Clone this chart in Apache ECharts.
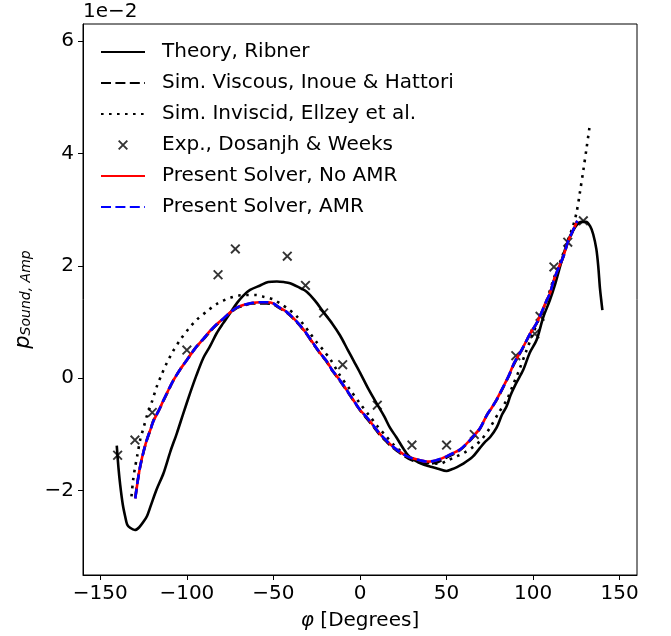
<!DOCTYPE html>
<html>
<head>
<meta charset="utf-8">
<script src="https://cdn.jsdelivr.net/npm/echarts@6/dist/echarts.min.js"></script>
<style>
html,body{margin:0;padding:0;background:#fff;}
#chart{width:671px;height:636px;}
</style>
</head>
<body>
<div id="chart"></div>
<script>
// ---- data (values in units of 1e-2) ----
const ribnerX = [-140.5,-139.5,-138.5,-137,-135.7,-134.5,-132.8,-130,-127.5,-125,-123,-121,-117.5,-113.5,-109.5,-105.8,-102,-98.2,-94.5,-90.5,-86.6,-82.8,-79,-75,-71,-67.4,-63.5,-57.7,-53,-48,-44,-40.4,-35,-30.8,-26,-21.2,-16,-11.5,-7,-3.5,0,5,10,14,17.3,21,25,28,32.7,37,40.4,45,50,53,56,59.7,65,69.3,72,75.1,78.9,82,84.7,87,90,94.3,98,102,105.8,109.7,112.5,115.5,118,121.2,125.1,128,130.5,133,134.7,136.5,137.6,138.6,139.3,140];
const ribnerY = [-1.2,-1.6,-1.9,-2.25,-2.45,-2.6,-2.66,-2.7,-2.65,-2.55,-2.45,-2.28,-1.98,-1.69,-1.3,-0.98,-0.62,-0.27,0.05,0.36,0.57,0.8,0.98,1.16,1.34,1.47,1.57,1.65,1.71,1.72,1.71,1.69,1.61,1.54,1.38,1.18,0.97,0.76,0.5,0.3,0.1,-0.2,-0.47,-0.68,-0.88,-1.05,-1.25,-1.38,-1.48,-1.54,-1.57,-1.61,-1.65,-1.62,-1.58,-1.52,-1.4,-1.24,-1.14,-1.05,-0.88,-0.65,-0.5,-0.3,-0.1,0.15,0.45,0.68,1.08,1.39,1.65,1.98,2.25,2.52,2.72,2.78,2.78,2.7,2.56,2.3,2.0,1.6,1.4,1.21];

const viscousX = [-129.8,-128.5,-127,-125,-123.2,-121,-119.3,-116,-113.5,-110.5,-107.8,-104,-100.1,-95,-90.5,-86.6,-82.8,-79,-75.1,-71,-67.4,-62,-57.7,-54,-50,-46.2,-42.4,-38.5,-34.6,-31,-27,-23.1,-19.2,-16.4,-12,-7.7,-4,0,4,7.7,11.5,15,18,21.2,25,28,30.8,34.6,38,40.4,44,47,50,54,57.7,61,65,69.3,73.2,76,78.9,82.8,86,89,92.4,95,98,102,105,107,109.7,112,114.5,117.4,120,123.2,125.5];
const viscousY = [-2.12,-1.84,-1.58,-1.31,-1.11,-0.91,-0.75,-0.56,-0.4,-0.21,-0.04,0.15,0.32,0.54,0.69,0.83,0.95,1.05,1.16,1.25,1.29,1.33,1.33,1.33,1.31,1.24,1.17,1.06,0.93,0.79,0.61,0.44,0.29,0.15,-0.03,-0.22,-0.39,-0.57,-0.72,-0.86,-1.01,-1.12,-1.21,-1.29,-1.37,-1.43,-1.47,-1.5,-1.52,-1.52,-1.5,-1.46,-1.41,-1.35,-1.28,-1.19,-1.06,-0.9,-0.66,-0.53,-0.39,-0.16,0.04,0.25,0.44,0.59,0.77,0.97,1.17,1.32,1.5,1.74,1.94,2.15,2.41,2.63,2.79];

const inviscidX = [-132,-131,-130,-128.5,-127,-125,-123.2,-120,-117.4,-114.5,-111.6,-108,-103.9,-99,-94.3,-88,-82.8,-79,-75.1,-70,-65.4,-60,-55.8,-50,-46.2,-41,-36.5,-32.5,-28.9,-25,-21.2,-17,-12,-5.8,0,5,10,15,20,25,30,35,40,46.2,50,55.8,60,65.4,70,75.1,80,84.7,88,92,96,100,104,108,112,116,120,123,125.1,127,129,130.9,132.5];
const inviscidY = [-2.1,-1.8,-1.6,-1.35,-1.1,-0.88,-0.68,-0.4,-0.15,0.07,0.27,0.48,0.68,0.88,1.04,1.2,1.32,1.38,1.43,1.47,1.48,1.48,1.45,1.4,1.33,1.22,1.1,0.95,0.8,0.64,0.5,0.33,0.07,-0.2,-0.45,-0.65,-0.85,-1.03,-1.2,-1.33,-1.42,-1.47,-1.51,-1.52,-1.47,-1.39,-1.33,-1.22,-1.1,-0.88,-0.62,-0.39,-0.15,0.15,0.48,0.8,1.1,1.4,1.78,2.1,2.45,2.7,2.95,3.3,3.7,4.1,4.45];

const expX = [-140,-130,-120,-100,-82,-72,-42,-31.5,-21,-10,10,30,50,66,90,101,104,112,120,129];
const expY = [-1.37,-1.1,-0.61,0.5,1.84,2.3,2.17,1.65,1.16,0.24,-0.48,-1.19,-1.19,-1.0,0.4,0.79,1.1,1.98,2.42,2.8];

const noAmrX = [-129.8,-128.5,-127,-125,-123.2,-121,-119.3,-116,-113.5,-110.5,-107.8,-104,-100.1,-95,-90.5,-86.6,-82.8,-79,-75.1,-71,-67.4,-62,-57.7,-54,-50,-46.2,-42.4,-38.5,-34.6,-31,-27,-23.1,-19.2,-16.4,-12,-7.7,-4,0,4,7.7,11.5,15,18,21.2,25,28,30.8,34.6,38,40.4,44,47,50,54,57.7,61,65,69.3,73.2,76,78.9,82.8,86,89,92.4,95,98,102,105,107,109.7,112,114.5,117.4,120,123.2,125.5];
const noAmrY = [-2.14,-1.85,-1.57,-1.3,-1.1,-0.91,-0.76,-0.56,-0.39,-0.2,-0.04,0.15,0.32,0.54,0.7,0.84,0.96,1.06,1.17,1.26,1.3,1.34,1.35,1.35,1.33,1.25,1.18,1.07,0.94,0.8,0.62,0.45,0.3,0.16,-0.02,-0.21,-0.38,-0.56,-0.7,-0.84,-0.99,-1.1,-1.19,-1.27,-1.35,-1.4,-1.43,-1.46,-1.48,-1.48,-1.46,-1.43,-1.39,-1.33,-1.27,-1.18,-1.05,-0.89,-0.66,-0.53,-0.38,-0.15,0.05,0.27,0.45,0.6,0.78,0.98,1.18,1.33,1.51,1.75,1.95,2.16,2.42,2.64,2.8];

const amrX = noAmrX.slice();
const amrY = noAmrY.slice();

const xTicks = [-150,-100,-50,0,50,100,150];
const yTicks = [-2,0,2,4,6];

const seriesNames = ['Theory, Ribner','Sim. Viscous, Inoue & Hattori','Sim. Inviscid, Ellzey et al.','Exp., Dosanjh & Weeks','Present Solver, No AMR','Present Solver, AMR'];

// ---- chart ----
const pairs = (xs, ys) => xs.map((x, i) => [x, ys[i]]);
const FONT = 'DejaVu Sans';
const minus = v => String(v).replace('-', '\u2212');
const LW = 2.6;
const crossPath = 'path://M0,1.35L1.35,0L10,8.65L8.65,10Z M8.65,0L10,1.35L1.35,10L0,8.65Z';
const hiddenSym = {opacity: 0};

const chart = echarts.init(document.getElementById('chart'), null, {renderer: 'canvas'});
chart.setOption({
  animation: false,
  backgroundColor: '#fff',
  textStyle: {fontFamily: FONT},
  grid: {left: 83, top: 24, right: 34, bottom: 61, show: true, borderColor: '#000', borderWidth: 1, containLabel: false},
  xAxis: {
    type: 'value', min: -160, max: 160,
    name: '{i|\u03c6} [Degrees]', nameLocation: 'middle', nameGap: 36,
    nameTextStyle: {fontSize: 20, color: '#000', fontFamily: FONT,
      rich: {i: {fontSize: 20, fontStyle: 'italic', fontFamily: FONT, color: '#000'}}},
    axisLine: {show: true, onZero: false, lineStyle: {color: '#000', width: 1}},
    axisTick: {show: true, length: 5, lineStyle: {color: '#000', width: 1}, customValues: xTicks},
    axisLabel: {show: true, fontSize: 20, color: '#000', fontFamily: FONT, margin: 9, customValues: xTicks, formatter: minus},
    splitLine: {show: false}
  },
  yAxis: {
    type: 'value', min: -3.5, max: 6.3,
    name: '{p|p}{s|Sound, Amp}', nameLocation: 'middle', nameGap: 46, nameRotate: 90,
    nameTextStyle: {color: '#000', fontFamily: FONT,
      rich: {
        p: {fontSize: 21, fontStyle: 'italic', fontFamily: FONT, color: '#000', lineHeight: 24, verticalAlign: 'bottom'},
        s: {fontSize: 14, fontStyle: 'italic', fontFamily: FONT, color: '#000', lineHeight: 14, verticalAlign: 'bottom'}
      }},
    axisLine: {show: true, onZero: false, lineStyle: {color: '#000', width: 1}},
    axisTick: {show: true, length: 5, lineStyle: {color: '#000', width: 1}, customValues: yTicks},
    axisLabel: {show: true, fontSize: 20, color: '#000', fontFamily: FONT, margin: 9, customValues: yTicks, formatter: minus},
    splitLine: {show: false}
  },
  legend: {
    orient: 'vertical', left: 100, top: 42, padding: 0,
    itemWidth: 44, itemHeight: 10, itemGap: 11,
    selectedMode: false,
    textStyle: {fontSize: 20, color: '#000', fontFamily: FONT, lineHeight: 20, padding: [0, 0, 0, 12]},
    data: [
      {name: seriesNames[0], itemStyle: hiddenSym},
      {name: seriesNames[1], itemStyle: hiddenSym},
      {name: seriesNames[2], itemStyle: hiddenSym},
      {name: seriesNames[3]},
      {name: seriesNames[4], itemStyle: hiddenSym},
      {name: seriesNames[5], itemStyle: hiddenSym}
    ]
  },
  graphic: [{
    type: 'text', left: 83, top: 2,
    style: {text: '1e\u22122', font: '20px "DejaVu Sans"', fill: '#000'}
  }],
  series: [
    {name: seriesNames[0], type: 'line', data: pairs(ribnerX, ribnerY), symbol: 'none', smooth: 0.3, z: 2,
      lineStyle: {color: '#000', width: LW}, itemStyle: {color: '#000'}},
    {name: seriesNames[1], type: 'line', data: pairs(viscousX, viscousY), symbol: 'none', smooth: 0.3, z: 3,
      lineStyle: {color: '#000', width: LW, type: [10, 4.4]}, itemStyle: {color: '#000'}},
    {name: seriesNames[2], type: 'line', data: pairs(inviscidX, inviscidY), symbol: 'none', smooth: 0.3, z: 4,
      lineStyle: {color: '#000', width: LW, type: [2.6, 5.4], cap: 'butt'}, itemStyle: {color: '#000'}},
    {name: seriesNames[3], type: 'scatter', data: pairs(expX, expY), symbol: crossPath, symbolSize: 10, z: 5,
      itemStyle: {color: '#000'}},
    {name: seriesNames[4], type: 'line', data: pairs(noAmrX, noAmrY), symbol: 'none', smooth: 0.3, z: 6,
      lineStyle: {color: '#ff0000', width: LW}, itemStyle: {color: '#ff0000'}},
    {name: seriesNames[5], type: 'line', data: pairs(amrX, amrY), symbol: 'none', smooth: 0.3, z: 7,
      lineStyle: {color: '#0000ff', width: LW, type: [10, 4.4]}, itemStyle: {color: '#0000ff'}}
  ]
});
</script>
</body>
</html>
